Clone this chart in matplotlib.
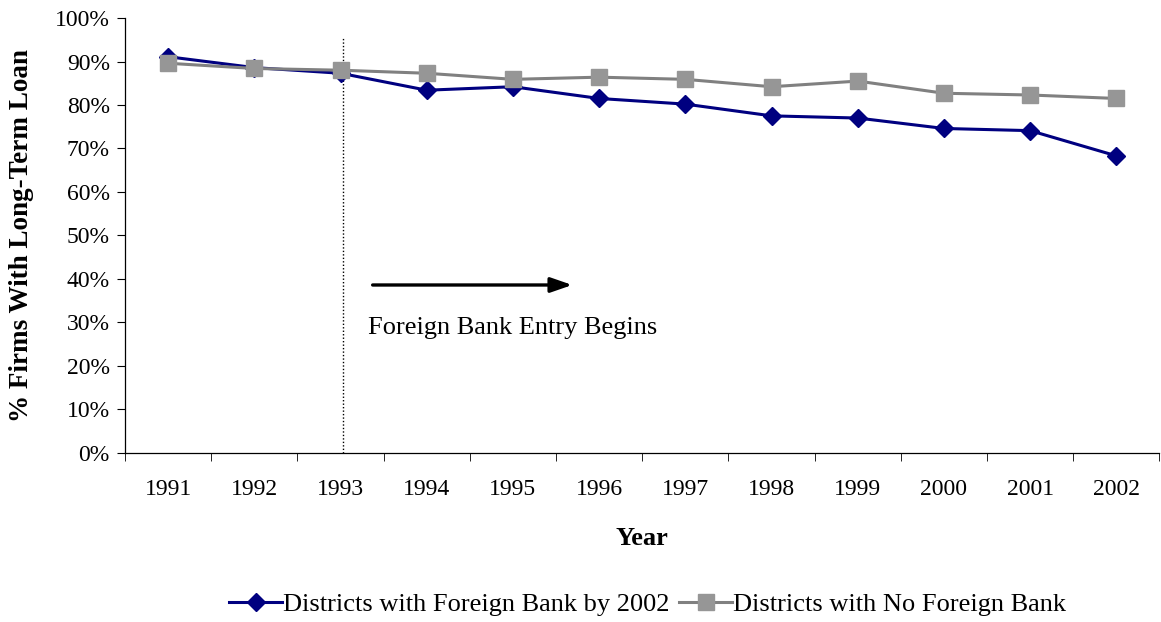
import numpy as np
import matplotlib.pyplot as plt
from matplotlib.ticker import FixedLocator, PercentFormatter

plt.rcParams['font.family'] = ['Liberation Serif', 'DejaVu Serif']

# data
years = ['1991', '1992', '1993', '1994', '1995', '1996',
         '1997', '1998', '1999', '2000', '2001', '2002']
foreign_bank = [91.1, 88.6, 87.3, 83.4, 84.2, 81.5, 80.2, 77.5, 77.0, 74.6, 74.1, 68.3]
no_foreign_bank = [89.6, 88.4, 88.0, 87.3, 85.9, 86.4, 85.9, 84.2, 85.5, 82.7, 82.3, 81.5]
entry_year = '1993'

fig = plt.figure(figsize=(11.61, 6.22), dpi=100)
ax = fig.add_axes([0.1077, 0.272, 0.891, 0.699])

x = np.arange(1, len(years) + 1)
ax.plot(x, foreign_bank, color='#000080', lw=2.2, marker='D', ms=9,
        mfc='#000080', mec='#000080', label='Districts with Foreign Bank by 2002', zorder=3)
ax.plot(x, no_foreign_bank, color='#808080', lw=2.2, marker='s', ms=11,
        mfc='#969696', mec='#969696', label='Districts with No Foreign Bank', zorder=3)

ax.set_xlim(0.5, len(years) + 0.5)
ax.set_ylim(0, 100)

# category axis: labels at centres, tick marks between categories
ax.set_xticks(x)
ax.set_xticklabels(years, fontsize=17)
ax.xaxis.set_minor_locator(FixedLocator(np.arange(0.5, len(years) + 1, 1)))
ax.tick_params(axis='x', which='major', length=0, pad=19)
ax.tick_params(axis='x', which='minor', length=6, direction='out')

ax.set_yticks(np.arange(0, 101, 10))
ax.yaxis.set_major_formatter(PercentFormatter(decimals=0))
ax.tick_params(axis='y', length=6, direction='out', labelsize=17, pad=5)

for s in ['top', 'right']:
    ax.spines[s].set_visible(False)
for s in ['left', 'bottom']:
    ax.spines[s].set_linewidth(0.9)

ax.set_ylabel('% Firms With Long-Term Loan', fontsize=19.5, fontweight='bold', labelpad=15)
ax.set_xlabel('Year', fontsize=19, fontweight='bold', labelpad=19)

# entry marker and annotation
xe = years.index(entry_year) + 1 + 0.03
ax.plot([xe, xe], [0, 95.6], color='black', lw=1, ls=(0, (1, 1.5)), zorder=2)
ax.annotate('', xy=(5.72, 38.6), xytext=(3.34, 38.6),
            arrowprops=dict(arrowstyle='-|>,head_length=1.3,head_width=0.45',
                            color='black', lw=2.4))
ax.text(3.32, 28.7, 'Foreign Bank Entry Begins', fontsize=19, va='center', ha='left')

fig.legend(loc='center', bbox_to_anchor=(0.558, 0.028), ncol=2, frameon=False,
           fontsize=19, handlelength=2.0, handletextpad=0.05, columnspacing=0.35)

fig.savefig('out.png', dpi=100)
